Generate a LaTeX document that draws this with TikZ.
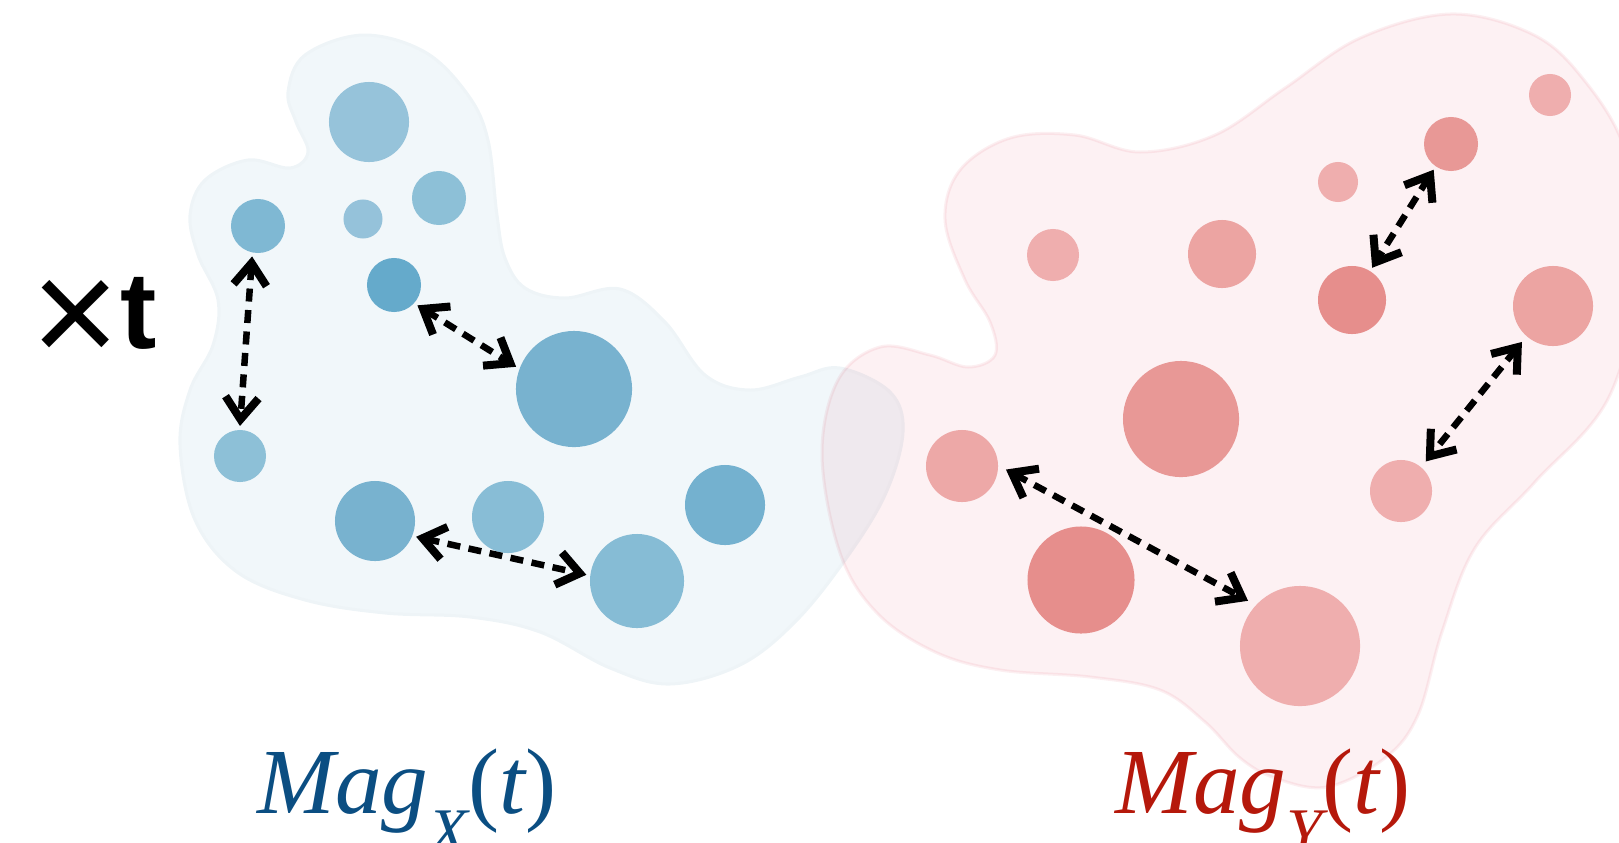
\documentclass[tikz,border=0pt]{standalone}
\usepackage{fontspec}
\setmainfont{Liberation Serif}
\newfontfamily\crossfont{Liberation Sans}
\usetikzlibrary{arrows.meta}
\definecolor{blobx}{HTML}{F1F7FA}
\definecolor{blobxedge}{HTML}{EEF4F7}
\definecolor{bloby}{HTML}{FDF1F3}
\definecolor{blobyedge}{HTML}{FCEFF1}
\definecolor{magx}{HTML}{0B4E82}
\definecolor{magy}{HTML}{B5180B}
\definecolor{xa}{HTML}{96C3DA}
\definecolor{xb}{HTML}{7FB8D3}
\definecolor{xc}{HTML}{8DC0D7}
\definecolor{xd}{HTML}{65AACB}
\definecolor{xe}{HTML}{78B2CF}
\definecolor{xf}{HTML}{88BDD6}
\definecolor{xg}{HTML}{74B1CF}
\definecolor{ya}{HTML}{EFAEAE}
\definecolor{yb}{HTML}{E89896}
\definecolor{yc}{HTML}{ECA4A2}
\definecolor{yd}{HTML}{E68E8C}
\definecolor{ye}{HTML}{EDA8A7}

\begin{document}
\begin{tikzpicture}[x=0.01cm,y=-0.01cm,
  dot/.style={circle,inner sep=0pt,outer sep=0.04cm},
  link/.style={<->,draw=black,line width=0.065cm,dash pattern=on 0.13cm off 0.085cm},
  cloudx/.style={fill=blobx,draw=blobxedge,line width=0.03cm},
  cloudy/.style={fill=bloby,draw=blobyedge,line width=0.03cm,blend mode=multiply},
  maglabel/.style={anchor=base west,inner sep=0pt,font=\fontsize{26.5}{30}\selectfont},
  >={Straight Barb[length=2.2mm,width=3.3mm,line width=0.08cm 0]}]
\useasboundingbox (0,0) rectangle (1619,842);
\path[cloudx] plot[smooth cycle,tension=0.6] coordinates {(363,35) (425,52) (468,95) (488,140) (497,215) (505,258) (525,288) (565,298) (620,289) (665,322) (705,375) (750,390) (800,377) (840,368) (890,392) (903,432) (885,495) (845,560) (795,622) (740,665) (670,684) (610,668) (540,632) (470,617) (385,613) (305,600) (237,572) (195,520) (180,445) (190,390) (213,345) (218,300) (198,255) (190,215) (205,180) (248,160) (290,168) (308,152) (296,122) (288,92) (305,55)};
\path[cloudy] plot[smooth cycle,tension=0.6] coordinates {(1450,14) (1530,33) (1580,75) (1625,150) (1640,260) (1610,395) (1535,482) (1475,548) (1442,632) (1418,715) (1385,758) (1327,787) (1275,778) (1240,758) (1205,722) (1160,690) (1090,677) (1000,670) (935,652) (877,613) (840,553) (822,455) (838,380) (880,347) (930,355) (968,367) (995,355) (990,322) (965,280) (945,220) (960,170) (1010,138) (1075,135) (1140,152) (1215,135) (1285,88) (1360,38)};
\node[font=\crossfont,anchor=base west,inner sep=0pt] (scale) at (31,348) {\raisebox{-0.16cm}{\fontsize{43}{43}\selectfont ×}{\fontsize{31}{31}\selectfont\bfseries t}};
\node[dot,fill=xa,minimum size=8mm] (x1) at (369,122) {};
\node[dot,fill=xb,minimum size=5.4mm] (x2) at (258,226) {};
\node[dot,fill=xa!95!xb,minimum size=3.9mm] (x3) at (363,219) {};
\node[dot,fill=xc,minimum size=5.4mm] (x4) at (439,198) {};
\node[dot,fill=xd,minimum size=5.4mm] (x5) at (394,285) {};
\node[dot,fill=xe,minimum size=11.6mm] (x6) at (574,389) {};
\node[dot,fill=xc,minimum size=5.2mm] (x7) at (240,456) {};
\node[dot,fill=xe,minimum size=8mm] (x8) at (375,521) {};
\node[dot,fill=xf,minimum size=7.2mm] (x9) at (508,517) {};
\node[dot,fill=xf!90!xe,minimum size=9.4mm] (x10) at (637,581) {};
\node[dot,fill=xg,minimum size=8mm] (x11) at (725,505) {};
\node[dot,fill=ya,minimum size=4.2mm] (y1) at (1550,95) {};
\node[dot,fill=yb,minimum size=5.4mm] (y2) at (1451,144) {};
\node[dot,fill=ya,minimum size=4mm] (y3) at (1338,182) {};
\node[dot,fill=ya,minimum size=5.2mm] (y4) at (1053,255) {};
\node[dot,fill=yc,minimum size=6.8mm] (y5) at (1222,254) {};
\node[dot,fill=yd,minimum size=6.8mm] (y6) at (1352,300) {};
\node[dot,fill=yc,minimum size=8mm] (y7) at (1553,306) {};
\node[dot,fill=yb,minimum size=11.6mm] (y8) at (1181,419) {};
\node[dot,fill=ye,minimum size=7.2mm] (y9) at (962,466) {};
\node[dot,fill=ya,minimum size=6.2mm] (y10) at (1401,491) {};
\node[dot,fill=yd,minimum size=10.7mm] (y11) at (1081,580) {};
\node[dot,fill=ya,minimum size=12mm] (y12) at (1300,646) {};
\draw[link] (x2.259) -- (x7.90);
\draw[link] (x5.-41) -- (x6.159);
\draw[link] (x8.-21) -- (x10.173);
\draw[link] (y2.236) -- (y6.58);
\draw[link,shorten <=0.035cm,shorten >=0.035cm] (y7.229) -- (y10.50);
\draw[link,shorten <=0.045cm,shorten >=0.05cm] (y9.-2) -- (y12.138);
\node[maglabel,text=magx] (magX) at (257,813) {\itshape Mag\raisebox{-0.4cm}{\fontsize{18.5}{20}\selectfont X}\upshape(\itshape t\upshape)};
\node[maglabel,text=magy] (magY) at (1115,813) {\itshape Mag\raisebox{-0.4cm}{\fontsize{18.5}{20}\selectfont Y}\upshape(\itshape t\upshape)};
\end{tikzpicture}
\end{document}
